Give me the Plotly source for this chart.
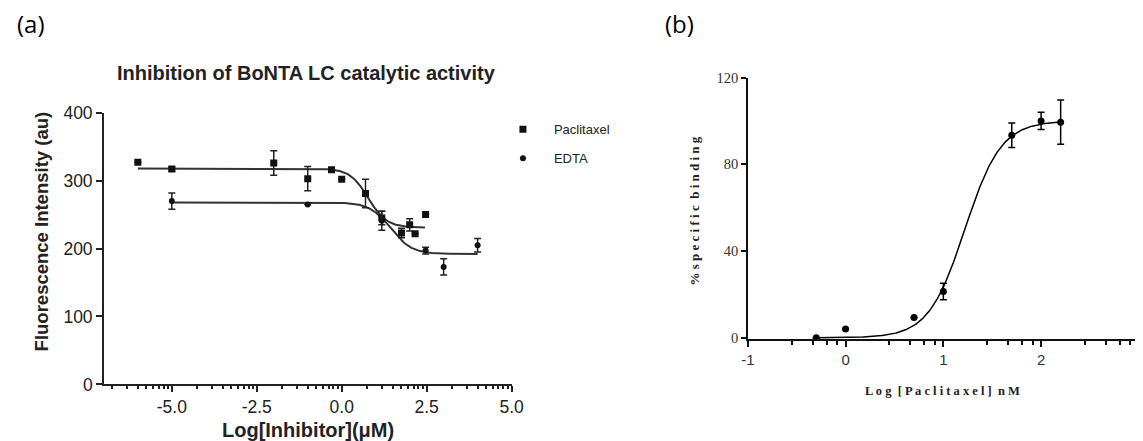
import numpy as np
import plotly.graph_objects as go

W, H = 1143, 441

# ---------------- Panel (a) data ----------------
pac_x = [-6.0, -5.0, -2.0, -1.0, -0.3, 0.0, 0.7, 1.18, 1.76, 2.0, 2.16, 2.47]
pac_y = [327, 317, 326, 303, 316, 302, 281, 245, 223, 235, 222, 250]
pac_err = [0, 3, 18, 18, 0, 0, 21, 10, 7, 9, 0, 0]

edta_x = [-5.0, -1.0, 1.18, 2.47, 3.0, 4.0]
edta_y = [270, 265, 241, 197, 173, 205]
edta_err = [12, 0, 14, 5, 12, 10]

# fitted 4-parameter logistic curves (parameters)
pac_fit = dict(top=318, bottom=231, mid=0.78, hill=1.6, xmin=-6.0, xmax=2.45)
edta_fit = dict(top=268, bottom=192, mid=1.44, hill=1.4, xmin=-5.0, xmax=4.0)

a_xticks = [-5.0, -2.5, 0.0, 2.5, 5.0]
a_xticklabels = ["-5.0", "-2.5", "0.0", "2.5", "5.0"]
a_yticks = [0, 100, 200, 300, 400]

# ---------------- Panel (b) data ----------------
b_x = [-0.3, 0.0, 0.7, 1.0, 1.7, 2.0, 2.2]
b_y = [0, 4.1, 9.3, 21.3, 93.4, 100, 99.4]
b_err = [0, 0, 0, 3.8, 5.7, 4, 10.2]
b_fit = dict(top=100, bottom=0, mid=1.22, hill=2.34, xmin=-0.3, xmax=2.2)

b_xticks = [-1, 0, 1, 2, 3]
b_xticklabels = ["-1", "0", "1", "2", "3"]
b_yticks = [0, 40, 80, 120]


def logistic(p, rising=False, n=300):
    x = np.linspace(p["xmin"], p["xmax"], n)
    s = 1 if rising else -1
    y = p["bottom"] + (p["top"] - p["bottom"]) / (1 + 10 ** (s * (p["mid"] - x) * p["hill"]))
    return x, y


# minor tick positions
a_minor = []
for base in [-7.5, -5.0, -2.5, 0.0, 2.5]:
    for k in range(2, 10):
        v = base + 2.5 * np.log10(k)
        if -7 < v < 5:
            a_minor.append(float(v))
b_minor = []
for base in [-1, 0, 1, 2]:
    for j in range(1, 5):
        b_minor.append(float(base + np.log10(1 + 1.8 * j)))

# placement helpers: map target picture pixels to paper coordinates
SX, OFFX, SY, OFFY = 0.985, 14.5, 0.963, 16.0


def PX(x):
    return min(1.0, max(0.0, (x / SX - OFFX) / W))


def PY(y):
    return min(1.0, max(0.0, 1 - (y / SY - OFFY) / H))


A_COL = "#222222"
B_COL = "#111111"

fig = go.Figure()

# Panel (a) curves
cx, cy = logistic(pac_fit)
fig.add_trace(go.Scatter(x=cx, y=cy, mode="lines", line=dict(color="#333333", width=2),
                         showlegend=False, hoverinfo="skip", xaxis="x", yaxis="y"))
cx, cy = logistic(edta_fit)
fig.add_trace(go.Scatter(x=cx, y=cy, mode="lines", line=dict(color="#333333", width=2),
                         showlegend=False, hoverinfo="skip", xaxis="x", yaxis="y"))

fig.add_trace(go.Scatter(
    x=pac_x, y=pac_y, mode="markers", name="Paclitaxel", legendgroup="p",
    marker=dict(symbol="square", size=7, color="#111111"),
    error_y=dict(type="data", array=pac_err, visible=True, color="#222222", thickness=1.5, width=3.5),
    xaxis="x", yaxis="y"))
fig.add_trace(go.Scatter(
    x=edta_x, y=edta_y, mode="markers", name="EDTA", legendgroup="e",
    marker=dict(symbol="circle", size=6, color="#111111"),
    error_y=dict(type="data", array=edta_err, visible=True, color="#222222", thickness=1.5, width=3.5),
    xaxis="x", yaxis="y"))

# Panel (b)
cx, cy = logistic(b_fit, rising=True)
fig.add_trace(go.Scatter(x=cx, y=cy, mode="lines", line=dict(color="#000000", width=1.5),
                         showlegend=False, hoverinfo="skip", xaxis="x2", yaxis="y2"))
fig.add_trace(go.Scatter(
    x=b_x, y=b_y, mode="markers", showlegend=False,
    marker=dict(symbol="circle", size=7, color="#000000"),
    error_y=dict(type="data", array=b_err, visible=True, color="#000000", thickness=1.5, width=3.5),
    xaxis="x2", yaxis="y2"))

ax_common = dict(showgrid=False, zeroline=False, showline=True, ticks="outside", mirror=False)

fig.update_layout(
    width=W, height=H, autosize=False,
    margin=dict(l=0, r=0, t=0, b=0),
    paper_bgcolor="white", plot_bgcolor="white",
    font=dict(family="Liberation Sans, Arial, sans-serif", color=A_COL),
    xaxis=dict(**ax_common, domain=[PX(103.3), PX(511.7)], range=[-7, 5], anchor="y",
               linecolor=A_COL, linewidth=1.5, tickcolor=A_COL, tickwidth=1.5, ticklen=6,
               tickmode="array", tickvals=a_xticks, ticktext=a_xticklabels,
               tickfont=dict(size=17.5, color=A_COL),
               minor=dict(tickmode="array", tickvals=a_minor, ticks="outside", ticklen=3,
                          tickcolor=A_COL, tickwidth=1.5)),
    yaxis=dict(**ax_common, domain=[PY(385), PY(111)], range=[0, 400], anchor="x",
               linecolor=A_COL, linewidth=1.5, tickcolor=A_COL, tickwidth=1.5, ticklen=6,
               tickmode="array", tickvals=a_yticks, tickfont=dict(size=17.5, color=A_COL)),
    xaxis2=dict(**ax_common, domain=[PX(748.3), PX(1140)], range=[-1, 3], anchor="y2",
                linecolor=B_COL, linewidth=1.5, tickcolor=B_COL, tickwidth=1.5, ticklen=6,
                tickmode="array", tickvals=b_xticks, ticktext=b_xticklabels,
                tickfont=dict(size=15, color="#333333", family="Liberation Sans, Arial"),
                minor=dict(tickmode="array", tickvals=b_minor, ticks="outside", ticklen=4,
                           tickcolor=B_COL, tickwidth=1.5)),
    yaxis2=dict(**ax_common, domain=[PY(339.3), PY(75.5)], range=[-0.6, 120], anchor="x2",
                linecolor=B_COL, linewidth=1.5, tickcolor=B_COL, tickwidth=1.5, ticklen=5,
                tickmode="array", tickvals=b_yticks,
                tickfont=dict(size=14.5, color="#333333", family="Liberation Serif, Times New Roman, serif")),
    legend=dict(x=485 / W, y=1 - 101 / H, xanchor="left", yanchor="top",
                font=dict(size=13, color=A_COL), tracegroupgap=9, itemwidth=52,
                bgcolor="rgba(0,0,0,0)"),
)

annotations = [
    dict(text="(a)", x=PX(9), y=PY(21), xanchor="left", yanchor="middle",
         font=dict(size=24, family="Open Sans, Liberation Sans", color="#000000")),
    dict(text="(b)", x=PX(663), y=PY(21), xanchor="left", yanchor="middle",
         font=dict(size=24, family="Open Sans, Liberation Sans", color="#000000")),
    dict(text="<b>Inhibition of BoNTA LC catalytic activity</b>", x=PX(306.5), y=PY(71),
         xanchor="center", yanchor="middle", font=dict(size=20, color=A_COL)),
    dict(text="<b>Fluorescence Intensity (au)</b>", x=PX(41), y=PY(231), textangle=-90,
         xanchor="center", yanchor="middle", font=dict(size=18.5, color=A_COL)),
    dict(text="<b>Log[Inhibitor](μM)</b>", x=PX(308), y=PY(431), yanchor="middle",
         xanchor="center", font=dict(size=20, color=A_COL)),
    dict(text="<b>% s p e c i f i c  b i n d i n g</b>", x=PX(695), y=PY(210), textangle=-90,
         xanchor="center", yanchor="middle",
         font=dict(size=13, color="#222222", family="Liberation Serif, Times New Roman, serif")),
    dict(text="<b>L o g  [ P a c l i t a x e l ]  n M</b>", x=PX(943), y=PY(392),
         xanchor="center", yanchor="middle",
         font=dict(size=12.5, color="#222222", family="Liberation Serif, Times New Roman, serif")),
]
for a in annotations:
    a.update(xref="paper", yref="paper", showarrow=False)
fig.update_layout(annotations=annotations)

fig.write_html("out.html", config={"displayModeBar": False})
